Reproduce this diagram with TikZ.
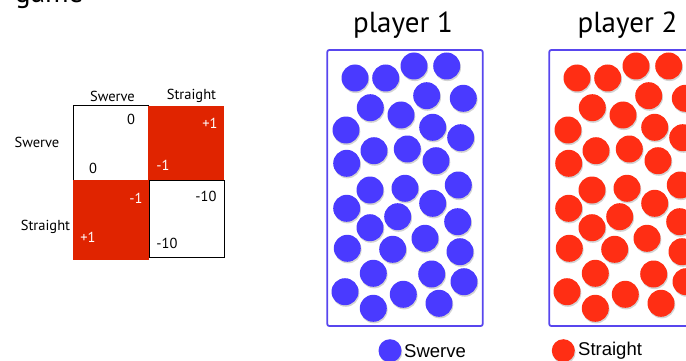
\documentclass[tikz,border=0pt]{standalone}
\usepackage{fontspec}
\setmainfont{PT Sans}
\newfontfamily\legfont{Liberation Sans}
\usetikzlibrary{shadows}
\definecolor{dotblue}{RGB}{74,58,255}
\definecolor{dotred}{RGB}{255,46,20}
\definecolor{cellred}{RGB}{224,36,0}
\definecolor{boxblue}{RGB}{88,70,238}
\tikzset{
  dot/.style={circle, inner sep=0pt, minimum size=27pt, draw=none,
    drop shadow={shadow xshift=0.8pt, shadow yshift=-1.6pt, opacity=0.35}},
  bluedot/.style={dot, fill=dotblue},
  reddot/.style={dot, fill=dotred},
  panel/.style={draw=boxblue, line width=1.8pt, rounded corners=2pt},
  lab/.style={font=\fontsize{14.5}{16}\selectfont, inner sep=0pt},
  wlab/.style={lab, text=white},
  title/.style={font=\fontsize{29}{32}\selectfont, inner sep=0pt, anchor=base},
  whitecell/.style={draw=black, line width=1pt, fill=white},
  redcell/.style={fill=cellred, draw=none},
  legtext/.style={font=\legfont\fontsize{18.5}{20}\selectfont, inner sep=0pt, anchor=west}
}
\begin{document}
\begin{tikzpicture}[x=1pt,y=-1pt]
\useasboundingbox (0,0) rectangle (686,361);
% top-left cut text
\node[title, anchor=base west] (game) at (15,2.5) {game};
% payoff matrix
\node[whitecell, minimum width=74.5pt, minimum height=74.5pt, inner sep=0pt] (tl) at (111.2,143.2) {};
\node[whitecell, minimum width=75pt, minimum height=77.5pt, inner sep=0pt] (br) at (186.5,219.2) {};
\node[redcell, minimum width=75.5pt, minimum height=74.5pt, inner sep=0pt] (tr) at (186.2,143.2) {};
\node[redcell, minimum width=76pt, minimum height=79.5pt, inner sep=0pt] (bl) at (111,220.2) {};
\node[lab] (ch1) at (112.5,96) {Swerve};
\node[lab] (ch2) at (191.5,96) {Straight};
\node[lab] (rh1) at (37,142) {Swerve};
\node[lab] (rh2) at (45.5,226.7) {Straight};
\node[lab] (v1) at (131,119) {0};
\node[lab] (v2) at (93,168) {0};
\node[wlab] (v3) at (210,123) {+1};
\node[wlab] (v4) at (163,165) {-1};
\node[wlab] (v5) at (136,198) {-1};
\node[wlab] (v6) at (88,237) {+1};
\node[lab] (v7) at (206,196) {-10};
\node[lab] (v8) at (167,243) {-10};
% titles
\node[title] (t1) at (403,33) {player 1};
\node[title] (t2) at (627.5,33) {player 2};
% panels
\draw[panel] (327.3,50) rectangle (482.7,326);
\draw[panel] (549.3,50) rectangle (704.7,326);
% dots
\foreach \x/\y [count=\i] in {355/78, 385.7/78, 414/66, 446.7/66, 370.3/107.7, 426.7/95.7,
  463.3/98.3, 401/115, 346/130, 432.7/127.3, 460.7/137.7, 374/150.7, 407.3/149,
  346.7/163.3, 436/160.7, 370/190, 405/188.3, 458.3/185, 346.7/208.3, 432.7/203.3,
  397.7/216.7, 370/227.7, 457.7/221.7, 347.3/248.3, 392.7/249.3, 425/238.3, 460/251.7,
  373.3/273.3, 431.7/274, 345/291.7, 403.3/294.3, 464/281.7, 373.3/308.3, 439/303.3}{
  \node[bluedot] (b\i) at (\x,\y) {};
  \node[reddot] (r\i) at (\x+222,\y) {};
}
% legend
\node[bluedot, minimum size=23pt] (lb) at (390,350.7) {};
\node[legtext] (lbt) at (404,351) {Swerve};
\node[reddot, minimum size=23pt] (lr) at (563.3,350.7) {};
\node[legtext] (lrt) at (578,351) {Straight};
\end{tikzpicture}
\end{document}
